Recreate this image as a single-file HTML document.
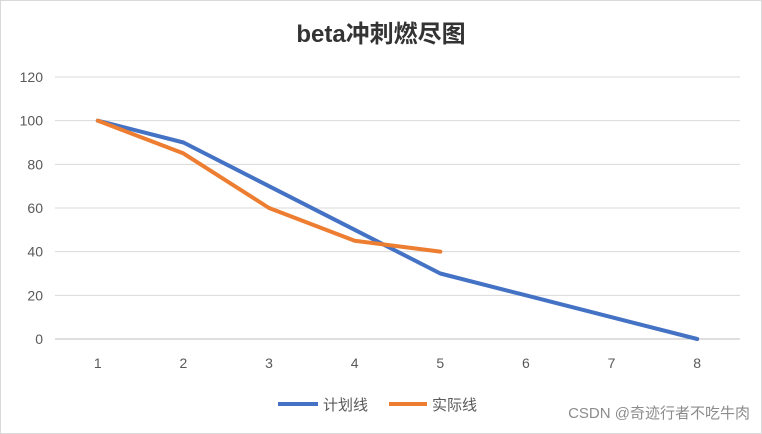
<!DOCTYPE html>
<html><head><meta charset="utf-8"><style>
html,body{margin:0;padding:0;background:#fff;}
#wrap{position:relative;width:762px;height:434px;overflow:hidden;}
svg text{font-family:"Liberation Sans","Noto Sans CJK SC",sans-serif;}
</style></head><body>
<div id="wrap">
<svg id="chart" width="762" height="434">
<rect x="0.5" y="0.5" width="761" height="433" fill="#fff" stroke="#d9d9d9"/>
<text x="381" y="42" text-anchor="middle" font-size="24" font-weight="bold" fill="#333">beta冲刺燃尽图</text>
<g id="grid"></g><g id="axes"></g><g id="series"></g>
<g>
<line x1="278" y1="404" x2="318" y2="404" stroke="#4472C4" stroke-width="4"/>
<text x="323" y="410" font-size="15" fill="#595959">计划线</text>
<line x1="389" y1="404" x2="427" y2="404" stroke="#ED7D31" stroke-width="4"/>
<text x="432" y="410" font-size="15" fill="#595959">实际线</text>
</g>
<text x="750" y="418" text-anchor="end" font-size="15" fill="#8c8c8c">CSDN @奇迹行者不吃牛肉</text>
</svg></div>
<script>
const categories=["1","2","3","4","5","6","7","8"];
const planValues=[100,90,70,50,30,20,10,0];
const actualValues=[100,85,60,45,40];
const yTicks=[0,20,40,60,80,100,120];
const NS="http://www.w3.org/2000/svg";
const x0=55,x1=740,yBottom=339,yTop=77,yMax=120;
const step=(x1-x0)/categories.length;
function xScale(i){return x0+step*(i+0.5);}
function yScale(v){return yBottom-(v/yMax)*(yBottom-yTop);}
function mk(tag,attrs,parent){const e=document.createElementNS(NS,tag);for(const k in attrs)e.setAttribute(k,attrs[k]);parent.appendChild(e);return e;}
const grid=document.getElementById('grid'),axes=document.getElementById('axes'),series=document.getElementById('series');
yTicks.forEach(t=>{
 const y=yScale(t);
 const l=mk('line',{x1:x0,x2:x1,y1:y,y2:y,stroke:t===0?'#bfbfbf':'#d9d9d9','stroke-width':1},grid);
 
 
 const tx=mk('text',{x:43,y:y+5,'text-anchor':'end','font-size':14,fill:'#595959'},axes);
 tx.textContent=t;
 
 
});
categories.forEach((c,i)=>{
 const tx=mk('text',{x:xScale(i),y:368,'text-anchor':'middle','font-size':14,fill:'#595959'},axes);
 tx.textContent=c;
 
 
});
function line(vals,color,name){
 const p=mk('polyline',{points:vals.map((v,i)=>xScale(i)+','+yScale(v)).join(' '),fill:'none',stroke:color,'stroke-width':4,'stroke-linejoin':'round','stroke-linecap':'round'},series);
 
 
}
line(planValues,'#4472C4','plan-line');
line(actualValues,'#ED7D31','actual-line');
</script>
</body></html>
